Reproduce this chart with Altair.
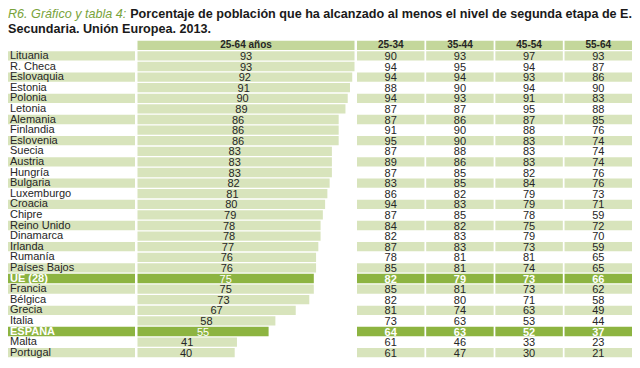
import altair as alt
import pandas as pd

# ---------------- data ----------------
countries = ["Lituania", "R. Checa", "Eslovaquia", "Estonia", "Polonia", "Letonia",
             "Alemania", "Finlandia", "Eslovenia", "Suecia", "Austria", "Hungría",
             "Bulgaria", "Luxemburgo", "Croacia", "Chipre", "Reino Unido", "Dinamarca",
             "Irlanda", "Rumanía", "Países Bajos", "UE (28)", "Francia", "Bélgica",
             "Grecia", "Italia", "ESPAÑA", "Malta", "Portugal"]
v2564 = [93, 93, 92, 91, 90, 89, 86, 86, 86, 83, 83, 83, 82, 81, 80, 79, 78, 78, 77,
         76, 76, 75, 75, 73, 67, 58, 55, 41, 40]
v2534 = [90, 94, 94, 88, 94, 87, 87, 91, 95, 87, 89, 87, 83, 86, 94, 87, 84, 82, 87,
         78, 85, 82, 85, 82, 81, 73, 64, 61, 61]
v3544 = [93, 95, 94, 90, 93, 87, 86, 90, 90, 88, 86, 85, 85, 82, 83, 85, 82, 83, 83,
         81, 81, 79, 81, 80, 74, 63, 63, 46, 47]
v4554 = [97, 94, 93, 94, 91, 95, 87, 88, 83, 83, 83, 82, 84, 79, 79, 78, 75, 79, 73,
         81, 74, 73, 73, 71, 63, 53, 52, 33, 30]
v5564 = [93, 87, 86, 90, 83, 88, 85, 76, 74, 74, 74, 76, 76, 73, 71, 59, 72, 70, 59,
         65, 65, 66, 62, 58, 49, 44, 37, 23, 21]
age_cols = ["25-34", "35-44", "45-54", "55-64"]
highlight = ["UE (28)", "ESPAÑA"]
bar_header = "25-64 años"
title_prefix = "R6. Gráfico y tabla 4:"
title_line1 = "Porcentaje de población que ha alcanzado al menos el nivel de segunda etapa de E."
title_line2 = "Secundaria. Unión Europea. 2013."

# ---------------- style ----------------
SH, HD, HL, WH, TXT, GRN = "#d8e4bc", "#c4d79b", "#8db441", "#ffffff", "#262626", "#79a33a"
FONT = "Liberation Sans"
n = len(countries)
rows = list(range(n + 1))
kinds = ["hl" if c in highlight else ("sh" if i % 2 == 0 else "wh") for i, c in enumerate(countries)]
fill_scale = alt.Scale(domain=["hd", "sh", "wh", "hl"], range=[HD, SH, WH, HL])
H = 318
W1, W2, W3 = 127, 217, 275
TS = 12.6


def yenc():
    return alt.Y("r:O", axis=None,
                 scale=alt.Scale(domain=rows, paddingInner=0.12, paddingOuter=0.06))


# ---------------- label column ----------------
lab = pd.DataFrame({"r": [i + 1 for i in range(n)], "label": countries, "kind": kinds})
lab_base = alt.Chart(lab)
lab_rect = lab_base.mark_rect().encode(
    x=alt.value(0), x2=alt.value(W1), y=yenc(),
    fill=alt.Fill("kind:N", scale=fill_scale, legend=None))
lab_txt = lab_base.transform_filter("datum.kind != 'hl'").mark_text(
    align="left", baseline="middle", font=FONT, fontSize=11, color=TXT, dx=2
).encode(x=alt.value(0), y=yenc(), text="label:N")
lab_txt_hl = lab_base.transform_filter("datum.kind == 'hl'").mark_text(
    align="left", baseline="middle", font=FONT, fontSize=11, fontWeight="bold",
    color="white", dx=2
).encode(x=alt.value(0), y=yenc(), text="label:N")
p1 = alt.layer(lab_rect, lab_txt, lab_txt_hl).properties(width=W1, height=H)

# ---------------- bar column ----------------
bar = pd.DataFrame({"r": [i + 1 for i in range(n)], "value": v2564,
                    "kind": ["hl" if k == "hl" else "sh" for k in kinds]})
xs = alt.Scale(domain=[-3, 93], nice=False, zero=False)
bar_base = alt.Chart(bar)
bars = bar_base.mark_rect().encode(
    x=alt.X("value:Q", scale=xs, axis=None), x2=alt.datum(-3), y=yenc(),
    fill=alt.Fill("kind:N", scale=fill_scale, legend=None))
bar_lab = bar_base.transform_filter("datum.kind != 'hl'").transform_calculate(
    mid="(datum.value - 3) / 2").mark_text(
    align="center", baseline="middle", font=FONT, fontSize=11, color=TXT, dy=1
).encode(x=alt.X("mid:Q", scale=xs, axis=None), y=yenc(), text="value:Q")
bar_lab_hl = bar_base.transform_filter("datum.kind == 'hl'").transform_calculate(
    mid="(datum.value - 3) / 2").mark_text(
    align="center", baseline="middle", font=FONT, fontSize=11, color="white", dy=1
).encode(x=alt.X("mid:Q", scale=xs, axis=None), y=yenc(), text="value:Q")
hdr = pd.DataFrame({"r": [0], "t": [bar_header], "kind": ["hd"]})
hdr_rect = alt.Chart(hdr).mark_rect().encode(
    x=alt.value(0), x2=alt.value(W2), y=yenc(),
    fill=alt.Fill("kind:N", scale=fill_scale, legend=None))
hdr_txt = alt.Chart(hdr).mark_text(
    align="center", baseline="middle", font=FONT, fontSize=10, fontWeight="bold", color=TXT
).encode(x=alt.value(W2 / 2), y=yenc(), text="t:N")
p2 = alt.layer(hdr_rect, hdr_txt, bars, bar_lab, bar_lab_hl).properties(width=W2, height=H)

# ---------------- table ----------------
recs = []
for j, col in enumerate(age_cols):
    recs.append({"r": 0, "col": col, "txt": col, "kind": "hd"})
vals = [v2534, v3544, v4554, v5564]
for i in range(n):
    for j, col in enumerate(age_cols):
        recs.append({"r": i + 1, "col": col, "txt": str(vals[j][i]), "kind": kinds[i]})
tab = pd.DataFrame(recs)
xc = alt.Scale(domain=age_cols, paddingInner=0.025, paddingOuter=0)
tab_base = alt.Chart(tab)
cells = tab_base.mark_rect().encode(
    x=alt.X("col:N", scale=xc, axis=None), y=yenc(),
    fill=alt.Fill("kind:N", scale=fill_scale, legend=None))
cell_txt = tab_base.transform_filter("datum.kind == 'sh' || datum.kind == 'wh'").mark_text(
    align="center", baseline="middle", font=FONT, fontSize=11, color=TXT, dy=1
).encode(x=alt.X("col:N", scale=xc, axis=None), y=yenc(), text="txt:N")
cell_txt_hd = tab_base.transform_filter("datum.kind == 'hd'").mark_text(
    align="center", baseline="middle", font=FONT, fontSize=10, fontWeight="bold", color=TXT
).encode(x=alt.X("col:N", scale=xc, axis=None), y=yenc(), text="txt:N")
cell_txt_hl = tab_base.transform_filter("datum.kind == 'hl'").mark_text(
    align="center", baseline="middle", font=FONT, fontSize=11, fontWeight="bold",
    color="white", dy=1
).encode(x=alt.X("col:N", scale=xc, axis=None), y=yenc(), text="txt:N")
p3 = alt.layer(cells, cell_txt, cell_txt_hd, cell_txt_hl).properties(width=W3, height=H)

# ---------------- title ----------------
WT = W1 + W2 + W3 + 5
tdf = pd.DataFrame({"a": [0]})
t_pre = alt.Chart(tdf).mark_text(
    text=title_prefix, align="left", baseline="middle", font=FONT,
    fontSize=TS, fontStyle="italic", color=GRN
).encode(x=alt.value(0), y=alt.value(6))
t_main = alt.Chart(tdf).mark_text(
    text=title_line1, align="right", baseline="middle", font=FONT,
    fontSize=TS, fontWeight="bold", color="#1a1a1a"
).encode(x=alt.value(WT), y=alt.value(6))
t_l2 = alt.Chart(tdf).mark_text(
    text=title_line2, align="left", baseline="middle", font=FONT,
    fontSize=TS, fontWeight="bold", color="#1a1a1a"
).encode(x=alt.value(0), y=alt.value(21))
ptitle = alt.layer(t_pre, t_main, t_l2).properties(width=WT, height=30)

chart = alt.vconcat(
    ptitle,
    alt.HConcatChart(hconcat=[p1, p2, p3], spacing=2.5),
    spacing=2,
).properties(padding=0).configure_view(stroke=None)

chart.save("out.html", embed_options={"renderer": "svg", "actions": False})
